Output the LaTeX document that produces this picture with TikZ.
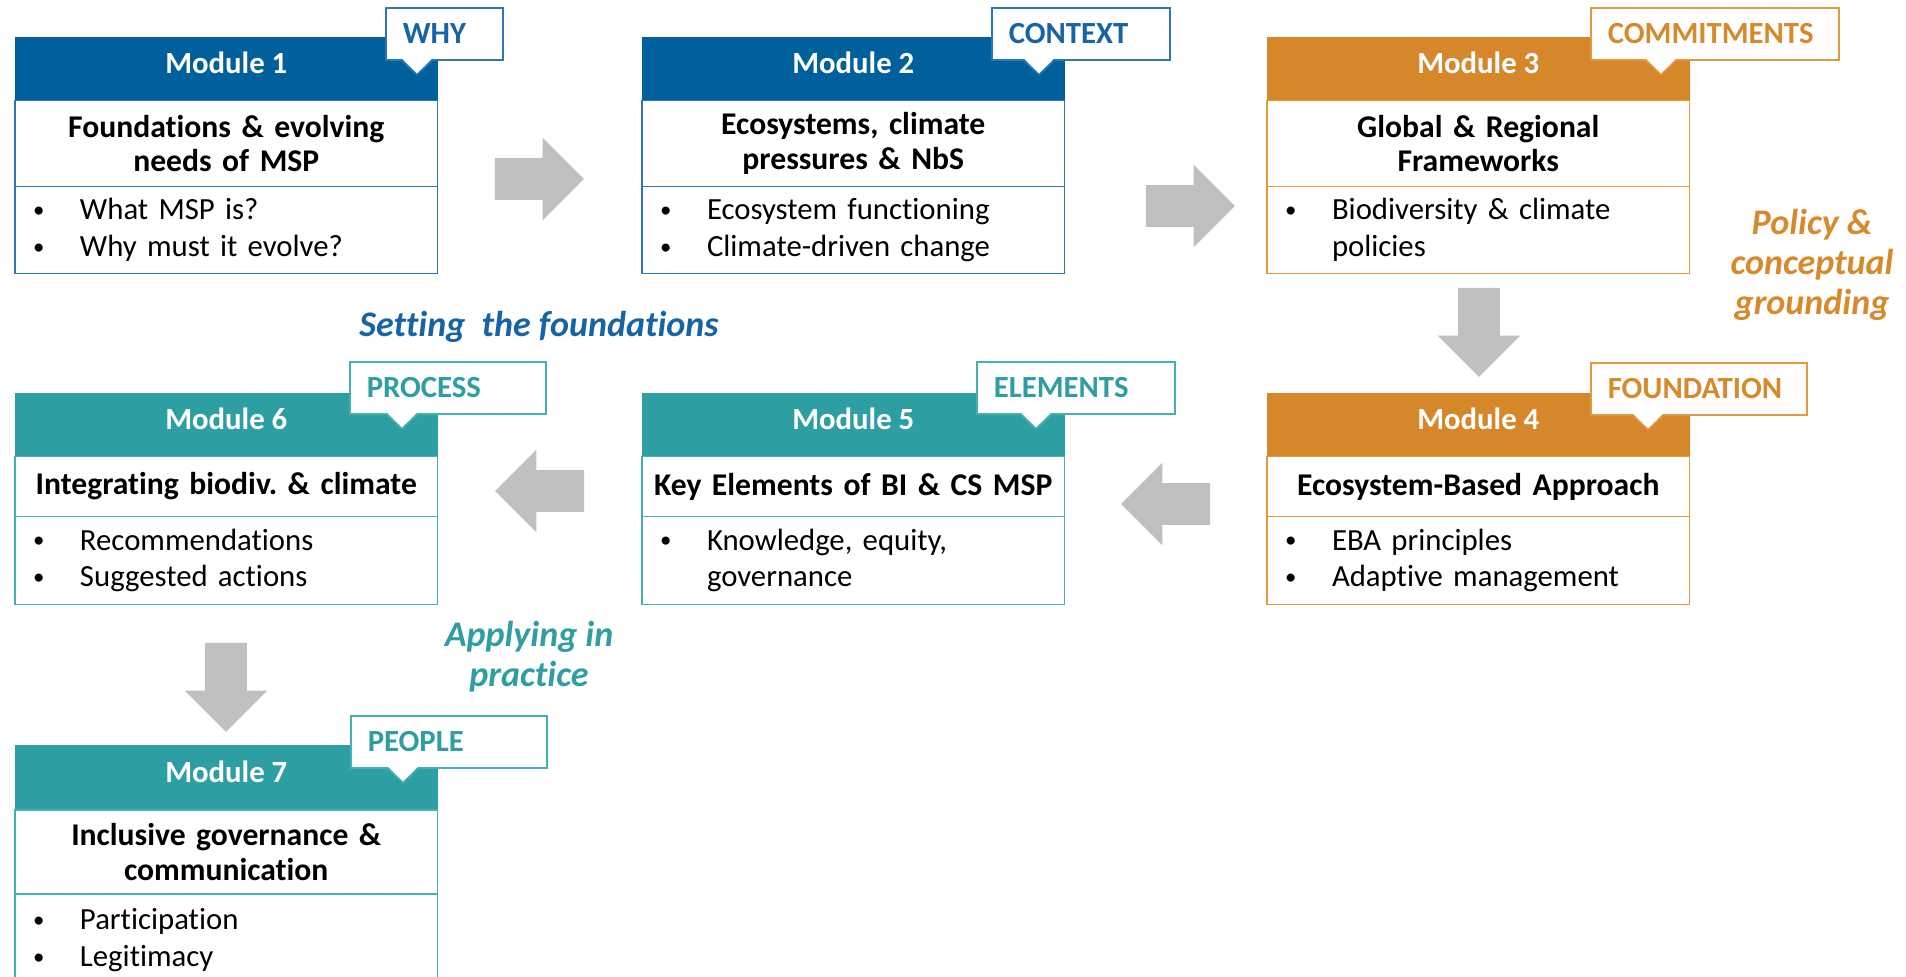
\documentclass[tikz,border=0pt]{standalone}
\usepackage{fontspec}
\setmainfont{Carlito}[Ligatures=NoCommon]
\usepackage{tikz}
\usetikzlibrary{positioning,calc,shapes.arrows}
\usepackage{xcolor}
\frenchspacing

\definecolor{mblue}{HTML}{00609C}
\definecolor{blueln}{HTML}{2E75B6}
\definecolor{bluetx}{HTML}{1664A5}
\definecolor{morange}{HTML}{D6872A}
\definecolor{orangeln}{HTML}{E3993F}
\definecolor{orangetx}{HTML}{D68A2C}
\definecolor{mteal}{HTML}{2D9FA3}
\definecolor{tealln}{HTML}{45B0B2}
\definecolor{tealtx}{HTML}{2E9EA2}
\definecolor{agray}{HTML}{BFBFBF}

% bullet and continuation line in the module lists
\newcommand{\bul}{\makebox[1.3cm][l]{\hspace{0.36cm}\raisebox{1.3pt}{\fontsize{13}{13}\selectfont\textbullet}}}
\newcommand{\cont}{\hspace*{1.3cm}}
% pointer under a callout: node, tip x, colour
\newcommand{\tagtail}[3]{%
  \coordinate (tb) at (#2,0 |- #1.south);
  \fill[white] ($(tb)+(-0.3,0.04)$) -- ($(tb)+(0,-0.28)$) -- ($(tb)+(0.3,0.04)$) -- cycle;
  \draw[#3, line width=0.9pt] ($(tb)+(-0.3,0)$) -- ($(tb)+(0,-0.28)$) -- ($(tb)+(0.3,0)$);
}

\begin{document}
\begin{tikzpicture}[
	mhead/.style={fill=#1, draw=#1, text=white, minimum width=8.45cm, minimum height=1.27cm,
		text depth=0.24cm, inner sep=0pt, outer sep=0pt, anchor=north west,
		font=\fontsize{17.5}{20}\selectfont\bfseries},
	mtitle/.style={draw=#1, fill=white, line width=0.9pt, minimum width=8.45cm, text width=8.2cm,
		align=center, inner sep=0pt, outer sep=0pt, font=\fontsize{18}{19.5}\selectfont\bfseries},
	mlist/.style={draw=#1, fill=white, line width=0.9pt, text width=8.45cm, align=left,
		inner sep=0pt, outer sep=0pt, font=\fontsize{17.5}{21}\selectfont},
	tagbox/.style 2 args={draw=#1, text=#2, fill=white, line width=0.9pt, minimum height=1.04cm,
		inner xsep=0.34cm, inner ysep=0pt, anchor=north west, align=left,
		font=\fontsize{17.5}{20}\selectfont\bfseries},
	garrow/.style={single arrow, fill=agray, draw=none, minimum height=1.78cm, inner sep=0.41cm,
		single arrow head extend=0.41cm},
	sidelbl/.style={text=#1, align=center, font=\fontsize{20.5}{22.8}\selectfont\bfseries\itshape}]

	\useasboundingbox (0,0) rectangle (38.12,-19.54);

	% row 1
	\node[mhead=mblue] (m1h) at (0.30,-0.74) {Module 1};
	\node[mtitle=blueln, below=0pt of m1h, minimum height=1.72cm] (m1t) {Foundations \& evolving\\needs of MSP};
	\node[mlist=blueln, below=0pt of m1t, minimum height=1.74cm] (m1b) {\bul What MSP is?\\\bul Why must it evolve?};
	\node[tagbox={blueln}{bluetx}, text width=1.66cm] (t1) at (7.70,-0.14) {WHY};
	\tagtail{t1}{8.34}{blueln}

	\node[mhead=mblue] (m2h) at (12.84,-0.74) {Module 2};
	\node[mtitle=blueln, below=0pt of m2h, minimum height=1.72cm] (m2t) {Ecosystems, climate\\pressures \& NbS};
	\node[mlist=blueln, below=0pt of m2t, minimum height=1.74cm] (m2b) {\bul Ecosystem functioning\\\bul Climate-driven change};
	\node[tagbox={blueln}{bluetx}, text width=2.88cm] (t2) at (19.82,-0.14) {CONTEXT};
	\tagtail{t2}{20.78}{blueln}

	\node[mhead=morange] (m3h) at (25.34,-0.74) {Module 3};
	\node[mtitle=orangeln, below=0pt of m3h, minimum height=1.72cm] (m3t) {Global \& Regional\\Frameworks};
	\node[mlist=orangeln, below=0pt of m3t, minimum height=1.74cm] (m3b) {\bul Biodiversity \& climate\\\cont policies};
	\node[tagbox={orangeln}{orangetx}, text width=4.28cm] (t3) at (31.80,-0.14) {COMMITMENTS};
	\tagtail{t3}{33.22}{orangeln}

	% row 2
	\node[mhead=morange] (m4h) at (25.34,-7.86) {Module 4};
	\node[mtitle=orangeln, below=0pt of m4h, minimum height=1.20cm] (m4t) {Ecosystem-Based Approach};
	\node[mlist=orangeln, below=0pt of m4t, minimum height=1.76cm] (m4b) {\bul EBA principles\\\bul Adaptive management};
	\node[tagbox={orangeln}{orangetx}, text width=3.64cm] (t4) at (31.80,-7.24) {FOUNDATION};
	\tagtail{t4}{32.96}{orangeln}

	\node[mhead=mteal] (m5h) at (12.84,-7.86) {Module 5};
	\node[mtitle=tealln, below=0pt of m5h, minimum height=1.20cm] (m5t) {Key Elements of BI \& CS MSP};
	\node[mlist=tealln, below=0pt of m5t, minimum height=1.76cm] (m5b) {\bul Knowledge, equity,\\\cont governance};
	\node[tagbox={tealln}{tealtx}, text width=3.28cm] (t5) at (19.52,-7.22) {ELEMENTS};
	\tagtail{t5}{20.72}{tealln}

	\node[mhead=mteal] (m6h) at (0.30,-7.86) {Module 6};
	\node[mtitle=tealln, below=0pt of m6h, minimum height=1.20cm] (m6t) {Integrating biodiv. \& climate};
	\node[mlist=tealln, below=0pt of m6t, minimum height=1.76cm] (m6b) {\bul Recommendations\\\bul Suggested actions};
	\node[tagbox={tealln}{tealtx}, text width=3.24cm] (t6) at (6.98,-7.22) {PROCESS};
	\tagtail{t6}{8.04}{tealln}

	% row 3
	\node[mhead=mteal, minimum height=1.30cm] (m7h) at (0.30,-14.90) {Module 7};
	\node[mtitle=tealln, below=0pt of m7h, minimum height=1.68cm] (m7t) {Inclusive governance \&\\communication};
	\node[mlist=tealln, below=0pt of m7t, minimum height=1.84cm] (m7b) {\bul Participation\\\bul Legitimacy};
	\node[tagbox={tealln}{tealtx}, text width=3.24cm] (t7) at (7.00,-14.30) {PEOPLE};
	\tagtail{t7}{8.06}{tealln}

	% block arrows
	\node[garrow] (a12) at (10.58,-3.58) {};
	\node[garrow] (a23) at (23.60,-4.12) {};
	\node[garrow, shape border rotate=270] (a34) at (29.58,-6.44) {};
	\node[garrow, shape border rotate=180] (a45) at (23.52,-10.08) {};
	\node[garrow, shape border rotate=180] (a56) at (11.00,-9.82) {};
	\node[garrow, shape border rotate=270] (a67) at (4.52,-13.54) {};

	% phase labels
	\node[sidelbl=bluetx] (setlbl) at (10.78,-6.54) {Setting\ \ the foundations};
	\node[sidelbl=orangetx] (pollbl) at (36.24,-5.30) {Policy \&\\conceptual\\grounding};
	\node[sidelbl=tealtx] (applbl) at (10.58,-13.14) {Applying in\\practice};
\end{tikzpicture}
\end{document}
